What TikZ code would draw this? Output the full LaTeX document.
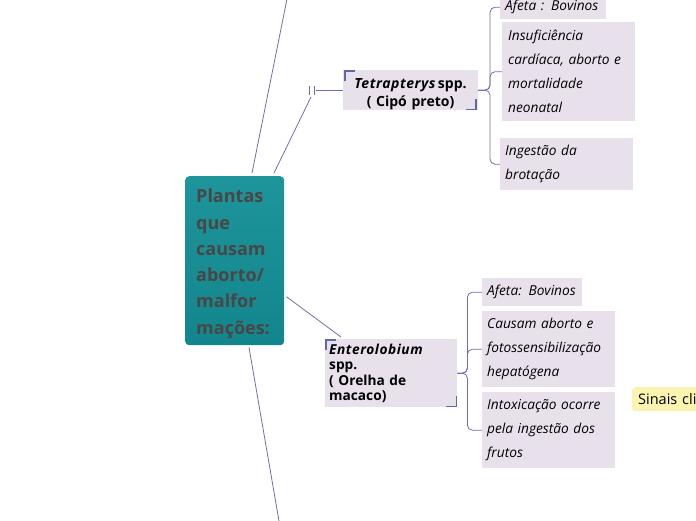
\documentclass[tikz,border=0pt]{standalone}
\usepackage{fontspec}
\setmainfont{Open Sans}
\usetikzlibrary{calc}
\definecolor{connc}{HTML}{6E6EB4}
\definecolor{brackc}{HTML}{6466A8}
\definecolor{lav}{HTML}{E8E1EC}
\definecolor{tealtop}{HTML}{1E949B}
\definecolor{tealbot}{HTML}{12868C}
\definecolor{roottext}{HTML}{4A4646}
\definecolor{yel}{HTML}{FBF3B0}
\newcommand{\wideit}[1]{{\itshape\addfontfeature{LetterSpace=4}#1}}
\begin{document}
\begin{tikzpicture}[x=1pt,y=-1pt,
  conn/.style={draw=connc,line width=0.8pt},
  brack/.style={draw=brackc,line width=1.8pt},
  rootbox/.style={rectangle,rounded corners=4pt,top color=tealtop,bottom color=tealbot,
    draw=none,text=roottext,align=left,inner xsep=11pt,inner ysep=0pt,
    font=\fontsize{18}{26.3}\selectfont\bfseries},
  mainbox/.style={rectangle,fill=lav,draw=none,text=black,inner ysep=0pt,
    font=\fontsize{14}{18}\selectfont\bfseries},
  leafbox/.style={rectangle,fill=lav,draw=none,text=black,align=left,inner xsep=5pt,inner ysep=0pt,
    anchor=north west,font=\fontsize{13.7}{24}\selectfont\itshape},
  notebox/.style={rectangle,rounded corners=3pt,fill=yel,draw=none,text=black,align=left,
    inner xsep=6pt,inner ysep=0pt,anchor=north west,font=\fontsize{14.5}{16}\selectfont}
]
\useasboundingbox (0,0) rectangle (696,520);
\clip (0,0) rectangle (696,520);

% root
\node[rootbox,anchor=north west,minimum width=99pt,minimum height=169pt,text width=77pt] (root) at (185,176)
  {\rule{0pt}{20pt}Plantas\\que\\causam\\aborto/\\malfor\\mações:};

% Tetrapterys
\node[mainbox,anchor=north west,minimum width=132pt,minimum height=40pt,text width=128pt,align=center] (tet) at (343,70)
  {\rule{0pt}{17pt}\wideit{Tetrapterys}\,spp.\\( Cipó preto)};
\draw[brack] ($(tet.north west)+(2,11)$) -- ($(tet.north west)+(2,1)$) -- ($(tet.north west)+(12,1)$);
\draw[brack] ($(tet.south east)+(-2,-11)$) -- ($(tet.south east)+(-2,-1)$) -- ($(tet.south east)+(-12,-1)$);

\node[leafbox,minimum width=106pt,minimum height=24pt,text width=96pt] (t1) at (500,-5) {Afeta : Bovinos};
\node[leafbox,minimum width=133pt,minimum height=99pt,text width=121pt,inner xsep=6pt] (t2) at (502,22)
  {Insuficiência\\cardíaca, aborto e\\mortalidade\\neonatal};
\node[leafbox,minimum width=133pt,minimum height=52pt,text width=123pt] (t3) at (500,138)
  {Ingestão da\\brotação};

\coordinate (tj) at ($(tet.east)+(12,0)$);
\foreach \c in {t1,t2,t3}
  \draw[conn,rounded corners=5pt] (tet.east) -- (tj) |- (\c.west);

% Enterolobium
\node[mainbox,anchor=north west,minimum width=132pt,minimum height=68pt,text width=124pt,align=left,
  inner xsep=4pt,font=\fontsize{13.7}{15.5}\selectfont\bfseries] (ent) at (325,339)
  {\wideit{Enterolobium}\\spp.\\( Orelha de\\macaco)};
\draw[brack] ($(ent.north west)+(1,11)$) -- ($(ent.north west)+(1,1)$) -- ($(ent.north west)+(11,1)$);
\draw[brack] ($(ent.south east)+(-1,-11)$) -- ($(ent.south east)+(-1,-1)$) -- ($(ent.south east)+(-11,-1)$);

\node[leafbox,minimum width=100pt,minimum height=28pt,text width=90pt] (e1) at (482,278) {Afeta: Bovinos};
\node[leafbox,minimum width=133pt,minimum height=76pt,text width=123pt] (e2) at (482,311)
  {Causam aborto e\\fotossensibilização\\hepatógena};
\node[leafbox,minimum width=133pt,minimum height=76pt,text width=123pt] (e3) at (482,392)
  {Intoxicação ocorre\\pela ingestão dos\\frutos};

\coordinate (ej) at ($(ent.east)+(10,0)$);
\foreach \c in {e1,e2,e3}
  \draw[conn,rounded corners=5pt] (ent.east) -- (ej) |- (\c.west);

% note
\node[notebox,minimum width=80pt,minimum height=24pt,text width=68pt] (note) at (632,387) {Sinais cli};

% root connectors
\coordinate (toga) at (309,86);
\coordinate (togb) at (314,86);
\draw[connc,line width=0.7pt] (toga) -- ++(0,9) (togb) -- ++(0,9);
\coordinate (tog) at (311,97);
\coordinate (togr) at (316,90);
\draw[conn] ($(root.north west)+(89,-3)$) -- (tog);
\draw[conn] (togr) -- (tet.west |- togr);

\coordinate (offtop) at (287,-1);
\coordinate (offbot) at (279,521);
\draw[conn] ($(root.north west)+(67,-3)$) -- (offtop);
\draw[conn] ($(root.south west)+(64,2)$) -- (offbot);
\draw[conn] ($(root.east)+(2,36)$) -- ($(ent.north west)+(16,-2)$);
\end{tikzpicture}
\end{document}
